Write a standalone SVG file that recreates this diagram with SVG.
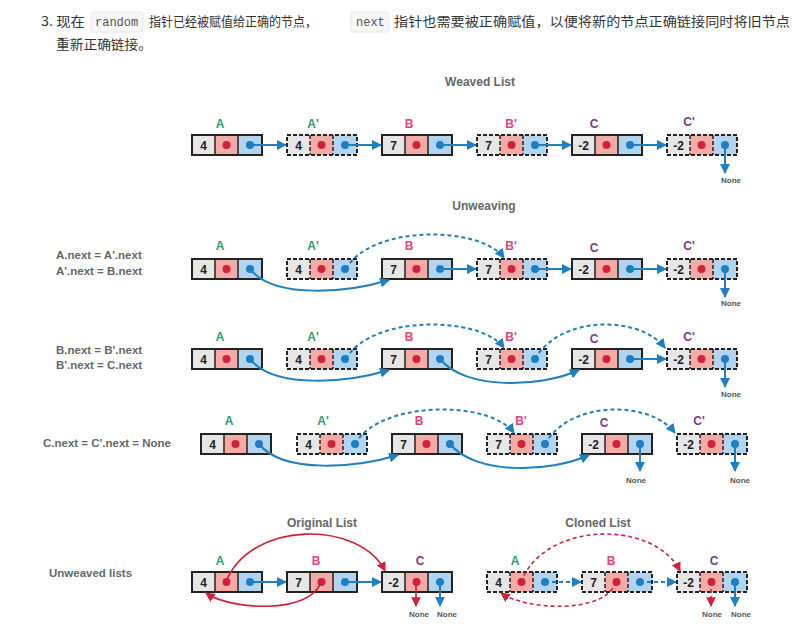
<svg xmlns="http://www.w3.org/2000/svg" xmlns:xlink="http://www.w3.org/1999/xlink" width="794" height="632" viewBox="0 0 794 632">
<style>
text{font-family:"Liberation Sans",Arial,sans-serif}
.hd{font-size:13px;fill:#333;font-family:"Noto Sans CJK SC","Liberation Sans",sans-serif}
.code{font-family:"Liberation Mono",monospace;font-size:12px;fill:#555}
.ttl{font-size:12px;font-weight:bold;fill:#666;text-anchor:middle}
.lft{font-size:11.5px;font-weight:bold;fill:#666}
.v{font-size:12px;font-weight:bold;fill:#222;text-anchor:middle}
.lab{font-size:12px;font-weight:bold;text-anchor:middle}
.la{fill:#2e9a6e}.lb{fill:#e0457b}.lc{fill:#7b3b8c}
.none{font-size:8px;font-weight:bold;fill:#555;text-anchor:middle}
.bl{stroke:#1f7fc0;stroke-width:2;fill:none}
.bd{stroke:#1f7fc0;stroke-width:2;fill:none;stroke-dasharray:4 3}
.rl{stroke:#d0203a;stroke-width:1.6;fill:none}
.rd{stroke:#d0203a;stroke-width:1.6;fill:none;stroke-dasharray:4 3}
</style>
<defs>
<marker id="ab" viewBox="0 0 10 10" refX="9" refY="5" markerWidth="5" markerHeight="5" orient="auto"><path d="M0,0L10,5L0,10z" fill="#1f7fc0"/></marker>
<marker id="ar" viewBox="0 0 10 10" refX="9" refY="5" markerWidth="6" markerHeight="6" orient="auto"><path d="M0,0L10,5L0,10z" fill="#d0203a"/></marker>
<g id="cells">
<rect x="0" y="0" width="23" height="20" fill="#e6e6e6"/>
<rect x="23" y="0" width="23" height="20" fill="#f4aaa6"/>
<rect x="46" y="0" width="24" height="20" fill="#b3d4ee"/>
<circle cx="34.5" cy="10" r="4" fill="#d0203a"/>
<circle cx="58" cy="10" r="4" fill="#1a7fc4"/>
</g>
<g id="sn"><use xlink:href="#cells"/><rect x="0" y="0" width="70" height="20" fill="none" stroke="#222" stroke-width="2"/><path d="M23,0V20M46,0V20" stroke="#222" stroke-width="1.5"/></g>
<g id="dn"><use xlink:href="#cells"/><rect x="0" y="0" width="70" height="20" fill="none" stroke="#222" stroke-width="2" stroke-dasharray="4 2"/><path d="M23,0V20M46,0V20" stroke="#222" stroke-width="1.5" stroke-dasharray="4 2"/></g>
</defs>
<rect width="794" height="632" fill="#fff"/>
<text class="hd" x="41" y="26" textLength="44" lengthAdjust="spacingAndGlyphs">3. 现在</text>
<rect x="91" y="12" width="52" height="20" rx="2" fill="#f6f6f6" stroke="#e6e6e6"/>
<text class="code" x="95" y="26">random</text>
<text class="hd" x="149" y="26" textLength="168" lengthAdjust="spacingAndGlyphs">指针已经被赋值给正确的节点，</text>
<rect x="351" y="12" width="38" height="20" rx="2" fill="#f6f6f6" stroke="#e6e6e6"/>
<text class="code" x="356" y="26">next</text>
<text class="hd" x="394" y="26" textLength="396" lengthAdjust="spacingAndGlyphs">指针也需要被正确赋值，以便将新的节点正确链接同时将旧节点</text>
<text class="hd" x="56" y="49" textLength="96" lengthAdjust="spacingAndGlyphs">重新正确链接。</text>
<text class="ttl" x="480" y="86">Weaved List</text>
<text class="ttl" x="484" y="210">Unweaving</text>
<text class="ttl" x="322" y="527">Original List</text>
<text class="ttl" x="598" y="527">Cloned List</text>
<text class="lft" x="56" y="259">A.next = A'.next</text>
<text class="lft" x="56" y="275">A'.next = B.next</text>
<text class="lft" x="56" y="354">B.next = B'.next</text>
<text class="lft" x="56" y="369">B'.next = C.next</text>
<text class="lft" x="43" y="447">C.next = C'.next = None</text>
<text class="lft" x="49" y="577">Unweaved lists</text>

<g id="r1A"><use xlink:href="#sn" x="192" y="135"/><text class="v" x="203.5" y="149.5">4</text><text class="lab la" x="220" y="128">A</text></g>
<g id="r1A2"><use xlink:href="#dn" x="287" y="135"/><text class="v" x="298.5" y="149.5">4</text><text class="lab la" x="313" y="128">A'</text></g>
<g id="r1B"><use xlink:href="#sn" x="382" y="135"/><text class="v" x="393.5" y="149.5">7</text><text class="lab lb" x="409" y="128">B</text></g>
<g id="r1B2"><use xlink:href="#dn" x="477" y="135"/><text class="v" x="488.5" y="149.5">7</text><text class="lab lb" x="511" y="128">B'</text></g>
<g id="r1C"><use xlink:href="#sn" x="572" y="135"/><text class="v" x="583.5" y="149.5">-2</text><text class="lab lc" x="594" y="128">C</text></g>
<g id="r1C2"><use xlink:href="#dn" x="667" y="135"/><text class="v" x="678.5" y="149.5">-2</text><text class="lab lc" x="689" y="126">C'</text></g>
<g id="r2A"><use xlink:href="#sn" x="192" y="259"/><text class="v" x="203.5" y="273.5">4</text><text class="lab la" x="220" y="250">A</text></g>
<g id="r2A2"><use xlink:href="#dn" x="287" y="259"/><text class="v" x="298.5" y="273.5">4</text><text class="lab la" x="313" y="250">A'</text></g>
<g id="r2B"><use xlink:href="#sn" x="382" y="259"/><text class="v" x="393.5" y="273.5">7</text><text class="lab lb" x="409" y="250">B</text></g>
<g id="r2B2"><use xlink:href="#dn" x="477" y="259"/><text class="v" x="488.5" y="273.5">7</text><text class="lab lb" x="511" y="250">B'</text></g>
<g id="r2C"><use xlink:href="#sn" x="572" y="259"/><text class="v" x="583.5" y="273.5">-2</text><text class="lab lc" x="594" y="252">C</text></g>
<g id="r2C2"><use xlink:href="#dn" x="667" y="259"/><text class="v" x="678.5" y="273.5">-2</text><text class="lab lc" x="689" y="250">C'</text></g>
<g id="r3A"><use xlink:href="#sn" x="192" y="349"/><text class="v" x="203.5" y="363.5">4</text><text class="lab la" x="220" y="341">A</text></g>
<g id="r3A2"><use xlink:href="#dn" x="287" y="349"/><text class="v" x="298.5" y="363.5">4</text><text class="lab la" x="313" y="341">A'</text></g>
<g id="r3B"><use xlink:href="#sn" x="382" y="349"/><text class="v" x="393.5" y="363.5">7</text><text class="lab lb" x="409" y="341">B</text></g>
<g id="r3B2"><use xlink:href="#dn" x="477" y="349"/><text class="v" x="488.5" y="363.5">7</text><text class="lab lb" x="511" y="341">B'</text></g>
<g id="r3C"><use xlink:href="#sn" x="572" y="349"/><text class="v" x="583.5" y="363.5">-2</text><text class="lab lc" x="594" y="343">C</text></g>
<g id="r3C2"><use xlink:href="#dn" x="667" y="349"/><text class="v" x="678.5" y="363.5">-2</text><text class="lab lc" x="689" y="341">C'</text></g>
<g id="r4A"><use xlink:href="#sn" x="201" y="434"/><text class="v" x="212.5" y="448.5">4</text><text class="lab la" x="229" y="425">A</text></g>
<g id="r4A2"><use xlink:href="#dn" x="297" y="434"/><text class="v" x="308.5" y="448.5">4</text><text class="lab la" x="323" y="425">A'</text></g>
<g id="r4B"><use xlink:href="#sn" x="392" y="434"/><text class="v" x="403.5" y="448.5">7</text><text class="lab lb" x="419" y="425">B</text></g>
<g id="r4B2"><use xlink:href="#dn" x="487" y="434"/><text class="v" x="498.5" y="448.5">7</text><text class="lab lb" x="521" y="425">B'</text></g>
<g id="r4C"><use xlink:href="#sn" x="582" y="434"/><text class="v" x="593.5" y="448.5">-2</text><text class="lab lc" x="604" y="427">C</text></g>
<g id="r4C2"><use xlink:href="#dn" x="677" y="434"/><text class="v" x="688.5" y="448.5">-2</text><text class="lab lc" x="699" y="425">C'</text></g>
<g id="oA"><use xlink:href="#sn" x="192" y="572"/><text class="v" x="203.5" y="586.5">4</text><text class="lab la" x="220" y="565">A</text></g>
<g id="oB"><use xlink:href="#sn" x="287" y="572"/><text class="v" x="298.5" y="586.5">7</text><text class="lab lb" x="316" y="565">B</text></g>
<g id="oC"><use xlink:href="#sn" x="382" y="572"/><text class="v" x="393.5" y="586.5">-2</text><text class="lab lc" x="420" y="565">C</text></g>
<g id="cA"><use xlink:href="#dn" x="487" y="572"/><text class="v" x="498.5" y="586.5">4</text><text class="lab la" x="515" y="565">A</text></g>
<g id="cB"><use xlink:href="#dn" x="582" y="572"/><text class="v" x="593.5" y="586.5">7</text><text class="lab lb" x="611" y="565">B</text></g>
<g id="cC"><use xlink:href="#dn" x="677" y="572"/><text class="v" x="688.5" y="586.5">-2</text><text class="lab lc" x="714" y="565">C</text></g>

<g id="connectors">
<path class="bl" d="M250,145H286" marker-end="url(#ab)"/>
<path class="bl" d="M345,145H381" marker-end="url(#ab)"/>
<path class="bl" d="M440,145H476" marker-end="url(#ab)"/>
<path class="bl" d="M535,145H571" marker-end="url(#ab)"/>
<path class="bl" d="M630,145H666" marker-end="url(#ab)"/>
<path class="bl" d="M725,145V173" marker-end="url(#ab)"/>
<text class="none" x="731" y="183">None</text>
<path class="bl" d="M250,269C275,300 350,292 389,280" marker-end="url(#ab)"/>
<path class="bd" d="M346,269C370,225 480,225 504,258" marker-end="url(#ab)"/>
<path class="bl" d="M440,269H476" marker-end="url(#ab)"/>
<path class="bl" d="M535,269H571" marker-end="url(#ab)"/>
<path class="bl" d="M630,269H666" marker-end="url(#ab)"/>
<path class="bl" d="M725,269V297" marker-end="url(#ab)"/>
<text class="none" x="731" y="306">None</text>
<path class="bl" d="M250,359C275,390 350,382 389,370" marker-end="url(#ab)"/>
<path class="bl" d="M440,359C465,390 540,388 579,370" marker-end="url(#ab)"/>
<path class="bd" d="M346,359C370,315 480,315 504,348" marker-end="url(#ab)"/>
<path class="bd" d="M535,359C560,315 640,315 665,348" marker-end="url(#ab)"/>
<path class="bl" d="M630,359H666" marker-end="url(#ab)"/>
<path class="bl" d="M725,359V387" marker-end="url(#ab)"/>
<text class="none" x="731" y="397">None</text>
<path class="bl" d="M259,444C284,475 359,467 398,455" marker-end="url(#ab)"/>
<path class="bl" d="M450,444C475,475 550,473 589,455" marker-end="url(#ab)"/>
<path class="bd" d="M355,444C380,400 490,400 514,433" marker-end="url(#ab)"/>
<path class="bd" d="M545,444C570,400 650,400 675,433" marker-end="url(#ab)"/>
<path class="bl" d="M640,444V471" marker-end="url(#ab)"/>
<text class="none" x="636" y="483">None</text>
<path class="bl" d="M735,444V471" marker-end="url(#ab)"/>
<text class="none" x="740" y="483">None</text>
<path class="bl" d="M250,582H286" marker-end="url(#ab)"/>
<path class="bl" d="M345,582H381" marker-end="url(#ab)"/>
<path class="rl" d="M226,582C250,520 360,520 385,571" marker-end="url(#ar)"/>
<path class="rl" d="M321,582C310,615 230,610 206,593" marker-end="url(#ar)"/>
<path class="rl" d="M416,582V606" marker-end="url(#ar)"/>
<path class="bl" d="M440,582V606" marker-end="url(#ab)"/>
<text class="none" x="419" y="617">None</text>
<text class="none" x="447" y="617">None</text>
<path class="bd" d="M545,582H581" marker-end="url(#ab)"/>
<path class="bd" d="M640,582H676" marker-end="url(#ab)"/>
<path class="rd" d="M521,582C545,520 655,520 680,571" marker-end="url(#ar)"/>
<path class="rd" d="M616,582C605,615 525,610 501,593" marker-end="url(#ar)"/>
<path class="rd" d="M711,582V606" marker-end="url(#ar)"/>
<path class="bl" d="M735,582V606" marker-end="url(#ab)"/>
<text class="none" x="712" y="617">None</text>
<text class="none" x="741" y="617">None</text>
</g>
</svg>
